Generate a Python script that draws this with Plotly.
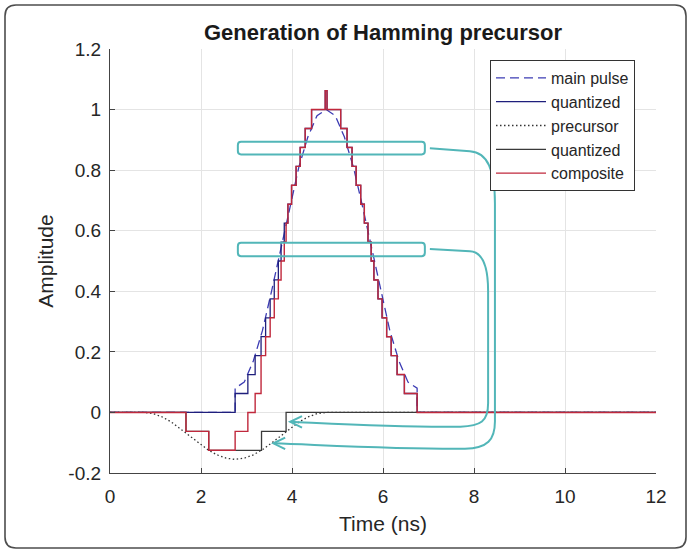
import plotly.graph_objects as go

# ---------------- data ----------------
main_time = [0.0, 2.75, 2.75, 2.95, 3.15, 3.35, 3.55, 3.75, 3.95, 4.15, 4.35, 4.55, 4.75,
             4.95, 5.15, 5.35, 5.55, 5.75, 5.95, 6.15, 6.35, 6.55, 6.75, 6.75, 12.0]
main_pulse = [0.0, 0.0, 0.08, 0.10, 0.17, 0.27, 0.40, 0.54, 0.68, 0.81, 0.91, 0.98, 1.00,
              0.98, 0.91, 0.81, 0.68, 0.54, 0.40, 0.27, 0.17, 0.10, 0.08, 0.0, 0.0]

qmain_time = [0.0, 2.75, 3.03, 3.19, 3.32, 3.42, 3.52, 3.61, 3.70, 3.76, 3.83, 3.91, 3.99,
              4.09, 4.18, 4.29, 4.43, 4.73, 4.77, 5.07, 5.21, 5.32, 5.41, 5.51, 5.59, 5.67,
              5.74, 5.80, 5.89, 5.98, 6.08, 6.18, 6.31, 6.47, 6.75, 12.0]
qmain_level = [0.0, 0.0625, 0.125, 0.1875, 0.25, 0.3125, 0.375, 0.4375, 0.5, 0.5625, 0.625,
               0.6875, 0.75, 0.8125, 0.875, 0.9375, 1.0, 1.0625, 1.0, 0.9375, 0.875, 0.8125,
               0.75, 0.6875, 0.625, 0.5625, 0.5, 0.4375, 0.375, 0.3125, 0.25, 0.1875, 0.125,
               0.0625, 0.0, 0.0]

pre_time = [0.0, 0.75, 0.95, 1.15, 1.35, 1.55, 1.75, 1.95, 2.15, 2.35, 2.55, 2.75, 2.95,
            3.15, 3.35, 3.55, 3.75, 3.95, 4.15, 4.35, 4.55, 4.75, 12.0]
precursor = [0.0, 0.0, -0.004, -0.015, -0.032, -0.054, -0.078, -0.101, -0.123, -0.140, -0.151,
             -0.155, -0.151, -0.140, -0.123, -0.101, -0.078, -0.054, -0.032, -0.015, -0.004,
             0.0, 0.0]

qpre_time = [0.0, 1.67, 2.17, 3.33, 3.87, 12.0]
qpre_level = [0.0, -0.0625, -0.125, -0.0625, 0.0, 0.0]

comp_time = [0.0, 1.67, 2.17, 2.75, 3.03, 3.19, 3.32, 3.42, 3.52, 3.61, 3.70, 3.76, 3.83,
             3.87, 3.91, 3.99, 4.09, 4.18, 4.29, 4.43, 4.73, 4.77, 5.07, 5.21, 5.32, 5.41,
             5.51, 5.59, 5.67, 5.74, 5.80, 5.89, 5.98, 6.08, 6.18, 6.31, 6.47, 6.75, 12.0]
comp_level = [0.0, -0.0625, -0.125, -0.0625, 0.0, 0.0625, 0.1875, 0.25, 0.3125, 0.375,
              0.4375, 0.5, 0.5625, 0.625, 0.6875, 0.75, 0.8125, 0.875, 0.9375, 1.0, 1.0625,
              1.0, 0.9375, 0.875, 0.8125, 0.75, 0.6875, 0.625, 0.5625, 0.5, 0.4375, 0.375,
              0.3125, 0.25, 0.1875, 0.125, 0.0625, 0.0, 0.0]

series_names = ["main pulse", "quantized", "precursor", "quantized", "composite"]

x_ticks = [0, 2, 4, 6, 8, 10, 12]
x_ticktext = ["0", "2", "4", "6", "8", "10", "12"]
y_ticks = [-0.2, 0.0, 0.2, 0.4, 0.6, 0.8, 1.0, 1.2]
y_ticktext = ["-0.2", "0", "0.2", "0.4", "0.6", "0.8", "1", "1.2"]

# annotation boxes (data units) : [x0, x1, y0, y1]
box_upper = [2.81, 6.92, 0.852, 0.894]
box_lower = [2.81, 6.92, 0.516, 0.560]

FONT = "Liberation Sans, Arial, Helvetica, sans-serif"
CYAN = "#52b6b8"

fig = go.Figure()
fig.add_trace(go.Scatter(x=main_time, y=main_pulse, mode="lines", name=series_names[0],
                         line=dict(color="#3c3cb4", width=1.3, dash="9px,5px")))
fig.add_trace(go.Scatter(x=qmain_time, y=qmain_level, mode="lines", name=series_names[1],
                         line=dict(color="#1f1f7c", width=1.3, shape="hv")))
fig.add_trace(go.Scatter(x=pre_time, y=precursor, mode="lines", name=series_names[2],
                         line=dict(color="#333333", width=1.3, dash="1.5px,2.5px")))
fig.add_trace(go.Scatter(x=qpre_time, y=qpre_level, mode="lines", name=series_names[3],
                         line=dict(color="#3a3a3a", width=1.3, shape="hv")))
fig.add_trace(go.Scatter(x=comp_time, y=comp_level, mode="lines", name=series_names[4],
                         line=dict(color="#c0283c", width=1.4, shape="hv")))


def rounded_box(b, rx=0.07, ry=0.011):
    x0, x1, y0, y1 = b
    return (f"M {x0+rx},{y0} L {x1-rx},{y0} Q {x1},{y0} {x1},{y0+ry} L {x1},{y1-ry} "
            f"Q {x1},{y1} {x1-rx},{y1} L {x0+rx},{y1} Q {x0},{y1} {x0},{y1-ry} "
            f"L {x0},{y0+ry} Q {x0},{y0} {x0+rx},{y0} Z")


shapes = []
for b in (box_upper, box_lower):
    shapes.append(dict(type="path", xref="x", yref="y", path=rounded_box(b),
                       line=dict(color=CYAN, width=2), layer="above"))

# curved arrows (data units)
curve_a = ("M 7.03,0.540 L 7.91,0.532 C 8.20,0.530 8.31,0.48 8.31,0.40 L 8.31,0.03 "
           "C 8.31,-0.03 8.15,-0.045 7.70,-0.047 C 6.4,-0.050 5.0,-0.038 3.97,-0.031")
curve_b = ("M 7.03,0.872 L 7.91,0.862 C 8.30,0.858 8.46,0.80 8.46,0.69 L 8.46,-0.03 "
           "C 8.46,-0.09 8.30,-0.118 7.80,-0.120 C 6.5,-0.122 5.0,-0.11 3.60,-0.102")
head_a = "M 4.22,-0.012 L 3.96,-0.031 L 4.22,-0.050"
head_b = "M 3.85,-0.083 L 3.59,-0.102 L 3.85,-0.121"
for p in (curve_a, curve_b, head_a, head_b):
    shapes.append(dict(type="path", xref="x", yref="y", path=p,
                       line=dict(color=CYAN, width=2), layer="above"))

# outer rounded frame (paper units)
L, R, T, B = 110, 656, 49, 473
def px(x):
    return (x - L) / (R - L)
def py(y):
    return (B - y) / (B - T)
fx0, fx1, fy0, fy1 = px(5), px(686), py(548), py(5)
rxp, ryp = 11 / (R - L), 11 / (B - T)
frame = (f"M {fx0+rxp},{fy0} L {fx1-rxp},{fy0} Q {fx1},{fy0} {fx1},{fy0+ryp} "
         f"L {fx1},{fy1-ryp} Q {fx1},{fy1} {fx1-rxp},{fy1} L {fx0+rxp},{fy1} "
         f"Q {fx0},{fy1} {fx0},{fy1-ryp} L {fx0},{fy0+ryp} Q {fx0},{fy0} {fx0+rxp},{fy0} Z")
shapes.append(dict(type="path", xref="paper", yref="paper", path=frame,
                   line=dict(color="#4d4d4d", width=1.6), layer="above"))

fig.update_layout(
    width=690, height=552,
    margin=dict(l=L, r=690 - R, t=T, b=552 - B),
    paper_bgcolor="white", plot_bgcolor="white",
    font=dict(family=FONT, color="#262626"),
    title=dict(text="<b>Generation of Hamming precursor</b>", x=0.5, xref="paper",
               y=1 - 32 / 552, yref="container", xanchor="center", yanchor="middle",
               font=dict(size=22, family=FONT, color="#1a1a1a")),
    xaxis=dict(range=[0, 12], tickvals=x_ticks, ticktext=x_ticktext,
               showgrid=True, gridcolor="#e4e4e4", gridwidth=1,
               showline=True, linecolor="#444444", linewidth=1.2,
               ticks="inside", ticklen=5, tickcolor="#444444",
               tickfont=dict(size=19, family=FONT, color="#262626"),
               ticklabelstandoff=6,
               zeroline=False,
               title=dict(text="Time (ns)", font=dict(size=21, family=FONT, color="#262626"),
                          standoff=10)),
    yaxis=dict(range=[-0.2, 1.2], tickvals=y_ticks, ticktext=y_ticktext,
               showgrid=True, gridcolor="#e4e4e4", gridwidth=1,
               showline=True, linecolor="#444444", linewidth=1.2,
               ticks="inside", ticklen=5, tickcolor="#444444",
               tickfont=dict(size=19, family=FONT, color="#262626"),
               ticklabelstandoff=4,
               zeroline=False,
               title=dict(text="Amplitude", font=dict(size=21, family=FONT, color="#262626"),
                          standoff=8)),
    legend=dict(x=px(490), y=py(60), xanchor="left", yanchor="top",
                bordercolor="#333333", borderwidth=1, bgcolor="white",
                font=dict(size=16, family=FONT, color="#262626"),
                itemwidth=50, tracegroupgap=0),
    shapes=shapes,
    showlegend=True,
)

fig.write_html("out.html", post_script="document.body.style.margin='0';",
               config={"displayModeBar": False})
